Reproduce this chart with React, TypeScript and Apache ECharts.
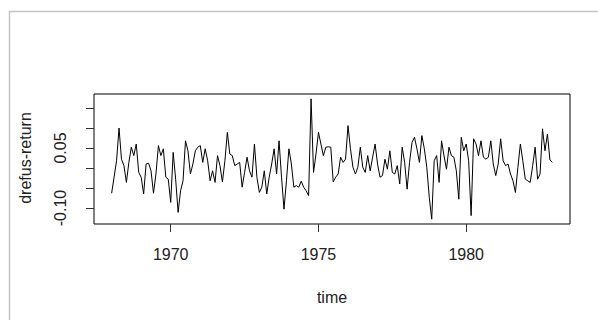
import React, { useEffect, useRef } from "react";
import * as echarts from "echarts";

const startYear = 1968;
const monthlyReturns: number[] = [
  -0.063, -0.023, 0.018, 0.1, 0.022, 0.006, -0.036, 0.014, 0.052, 0.031,
  0.06, -0.011, -0.023, -0.065, 0.01, 0.012, -0.007, -0.063, -0.015, 0.056,
  0.031, 0.048, -0.023, -0.028, -0.086, 0.039, -0.028, -0.111, -0.057, -0.032,
  0.068, 0.043, -0.015, 0.01, 0.043, 0.052, 0.056, 0.014, 0.048, 0.018,
  -0.032, -0.007, -0.036, 0.031, 0.006, -0.035, 0.018, 0.089, 0.035, 0.031,
  0.006, 0.01, 0.014, -0.048, -0.011, 0.027, -0.007, -0.023, 0.06, -0.023,
  -0.061, -0.048, -0.007, -0.065, -0.023, 0.01, 0.048, -0.015, 0.068, -0.023,
  -0.103, -0.032, 0.048, 0.01, -0.048, -0.044, -0.048, -0.033, -0.048, -0.057,
  -0.069, 0.173, -0.011, 0.035, 0.089, 0.06, 0.031, 0.052, 0.053, 0.052,
  -0.035, -0.023, -0.015, 0.027, 0.014, 0.022, 0.106, 0.048, 0.002, -0.015,
  0.002, 0.052, 0.002, -0.011, 0.031, -0.007, 0.027, 0.06, 0.01, -0.023,
  -0.019, 0.022, -0.003, 0.043, -0.011, -0.015, 0.006, -0.04, 0.052, 0.014,
  -0.053, 0.014, 0.064, 0.077, 0.048, 0.014, 0.081, 0.048, 0.002, -0.073,
  -0.128, 0.018, 0.031, -0.036, 0.068, 0.03, -0.003, 0.052, 0.031, 0.027,
  -0.007, -0.078, 0.077, 0.043, 0.06, 0.018, -0.119, 0.073, 0.06, 0.031,
  0.068, 0.027, 0.022, 0.027, 0.068, 0.01, -0.019, 0.01, 0.073, 0.018,
  0.006, 0.01, -0.015, -0.032, -0.061, 0.002, 0.06, 0.018, -0.028, -0.032,
  -0.036, 0.006, 0.052, -0.028, -0.015, 0.098, 0.043, 0.085, 0.02, 0.014,
];
const xTickValues = [1970, 1975, 1980];
const yTickValues = [-0.1, -0.05, 0, 0.05, 0.1, 0.15];
const yLabelValues = [-0.1, 0.05];
const xTitle = "time";
const yTitle = "drefus-return";

export default function App() {
  const ref = useRef<HTMLDivElement>(null);
  useEffect(() => {
    if (!ref.current) return;
    const chart = echarts.init(ref.current, null, { renderer: "svg" });
    const data = monthlyReturns.map((v, i) => [startYear + i / 12, v]);
    const xs = data.map((d) => d[0]);
    const ys = monthlyReturns;
    const xMinD = Math.min(...xs), xMaxD = Math.max(...xs);
    const yMinD = Math.min(...ys), yMaxD = Math.max(...ys);
    const xPad = (xMaxD - xMinD) * 0.04;
    const yPad = (yMaxD - yMinD) * 0.04;
    const font = "'Liberation Sans', Arial, sans-serif";
    const textColor = "#222";
    chart.setOption({
      animation: false,
      backgroundColor: "#fff",
      grid: {
        left: 94,
        top: 94,
        width: 476,
        height: 130,
        show: true,
        borderColor: "#000",
        borderWidth: 1,
        backgroundColor: "transparent",
      },
      xAxis: {
        type: "value",
        min: xMinD - xPad,
        max: xMaxD + xPad,
        position: "bottom",
        axisLine: { show: false, onZero: false },
        splitLine: { show: false },
        axisTick: {
          show: true,
          length: 8,
          customValues: xTickValues,
          lineStyle: { color: "#333" },
        },
        axisLabel: {
          customValues: xTickValues,
          margin: 22,
          fontSize: 16,
          fontFamily: font,
          color: textColor,
          formatter: (v: number) => String(Math.round(v)),
        },
      },
      yAxis: {
        type: "value",
        min: yMinD - yPad,
        max: yMaxD + yPad,
        position: "left",
        axisLine: { show: false, onZero: false },
        splitLine: { show: false },
        axisTick: {
          show: true,
          length: 8,
          customValues: yTickValues,
          lineStyle: { color: "#333" },
        },
        axisLabel: {
          customValues: yLabelValues,
          rotate: 90,
          margin: 26,
          fontSize: 16,
          fontFamily: font,
          color: textColor,
          formatter: (v: number) => v.toFixed(2),
        },
      },
      graphic: [
        {
          type: "polyline",
          shape: { points: [[9.5, 320], [9.5, 11.5], [598, 11.5]] },
          style: { stroke: "#c4c4c4", lineWidth: 1.5, fill: null },
          silent: true,
        },
        {
          type: "text",
          x: 332,
          y: 297,
          style: {
            text: xTitle,
            fontSize: 16,
            fontFamily: font,
            fill: textColor,
            align: "center",
            verticalAlign: "middle",
          },
        },
        {
          type: "text",
          x: 25,
          y: 158,
          rotation: Math.PI / 2,
          style: {
            text: yTitle,
            fontSize: 16,
            fontFamily: font,
            fill: textColor,
            align: "center",
            verticalAlign: "middle",
          },
        },
      ],
      series: [
        {
          type: "line",
          data,
          showSymbol: false,
          lineStyle: { color: "#000", width: 1 },
          itemStyle: { color: "#000" },
        },
      ],
    });
    return () => chart.dispose();
  }, []);
  return (
    <div
      ref={ref}
      style={{ position: "absolute", left: 0, top: 0, width: 598, height: 320 }}
    />
  );
}
